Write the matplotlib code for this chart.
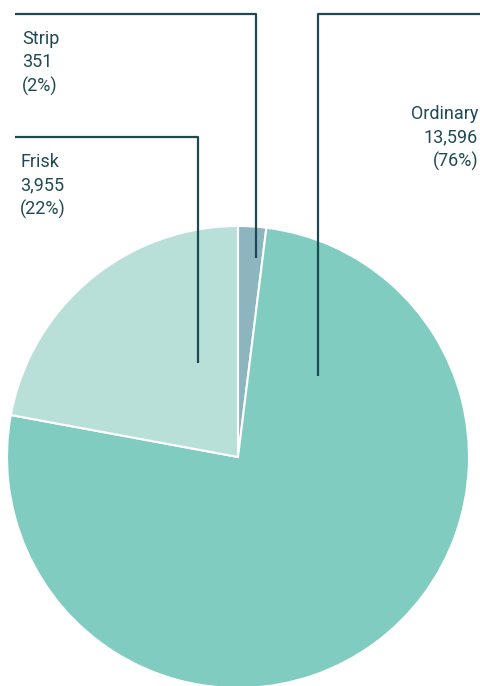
import matplotlib
matplotlib.use('Agg')
import matplotlib.pyplot as plt

# ── data ────────────────────────────────────────────────────────────────
labels = ['Strip', 'Ordinary', 'Frisk']
counts = [351, 13596, 3955]
colors = ['#8db5bf', '#80ccc0', '#b8e0d8']

LINE_C = '#1b4a55'
TEXT_C = '#1f4a55'

W, H = 480, 686
fig = plt.figure(figsize=(W / 100, H / 100), dpi=100)
ax = fig.add_axes([0, 0, 1, 1])

cx, cy, r = 238, H - 457, 231
ax.pie(counts, colors=colors, startangle=90, counterclock=False,
       radius=r, center=(cx, cy),
       wedgeprops=dict(edgecolor='white', linewidth=1.5))
ax.set_xlim(0, W)
ax.set_ylim(0, H)
ax.axis('off')

total = sum(counts)

# leader lines (pixel coords, y from top) and label anchors
leaders = {
    'Strip':    [(15, 14), (256, 14), (256, 258)],
    'Ordinary': [(480, 14), (318, 14), (318, 376)],
    'Frisk':    [(15, 137), (198, 137), (198, 363)],
}
anchors = {
    'Strip':    (22, 30, 'left'),
    'Ordinary': (478, 105, 'right'),
    'Frisk':    (20, 153, 'left'),
}

for lab, n in zip(labels, counts):
    pts = leaders[lab]
    ax.plot([p[0] for p in pts], [H - p[1] for p in pts],
            color=LINE_C, lw=1.6, solid_capstyle='butt', zorder=5)
    x, y, ha = anchors[lab]
    pct = round(100 * n / total)
    ax.text(x, H - y, f'{lab}\n{n:,}\n({pct}%)', ha=ha, va='top',
            fontsize=13, color=TEXT_C, linespacing=1.38,
            family=['Roboto', 'Liberation Sans', 'DejaVu Sans'],
            multialignment=ha)

fig.savefig('out.png', dpi=100)
